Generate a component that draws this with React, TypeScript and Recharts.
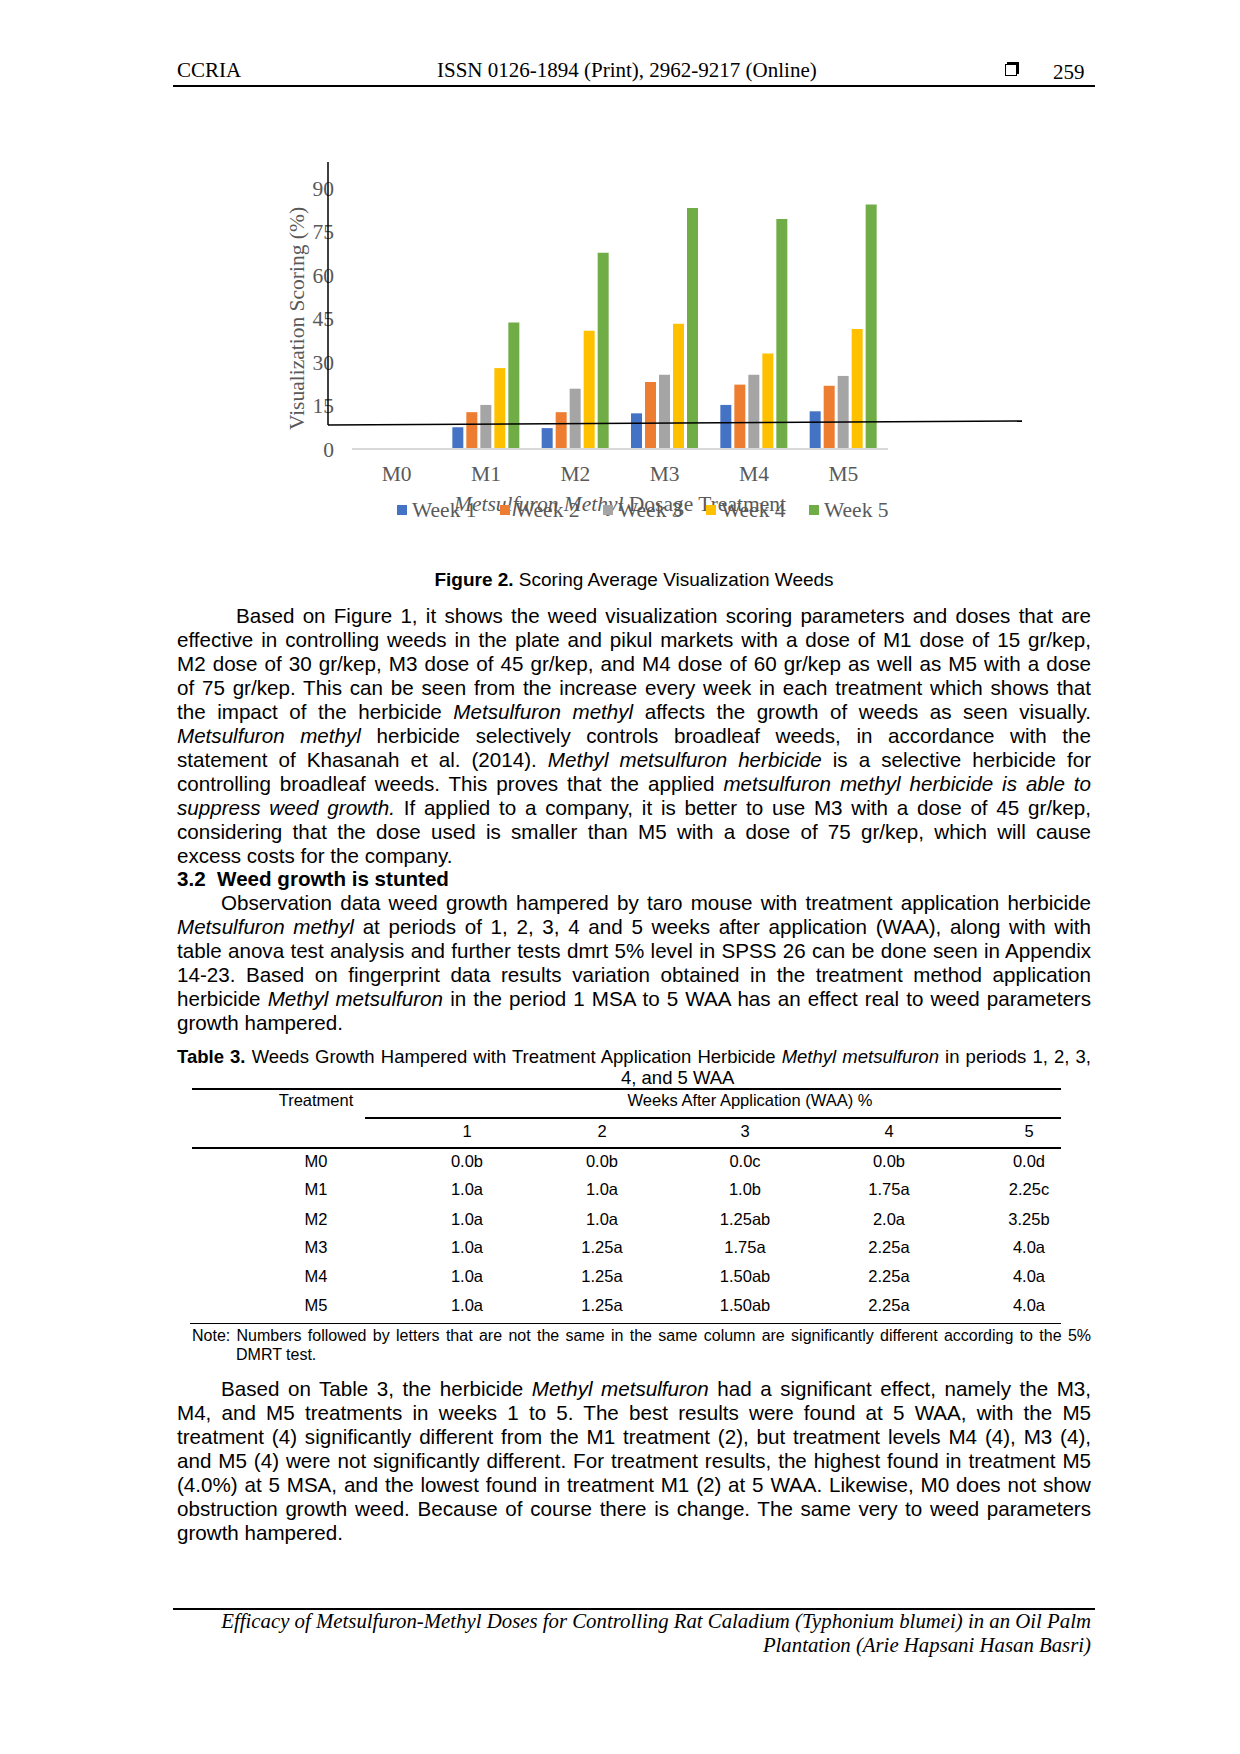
import React from 'react';
import { BarChart, Bar, XAxis, YAxis, Legend } from 'recharts';

// chart values
const categories = ['M0', 'M1', 'M2', 'M3', 'M4', 'M5'];
const week1 = [0, 7.5, 7.2, 12.3, 15.2, 13.0];
const week2 = [0, 12.7, 12.7, 23.1, 22.2, 21.8];
const week3 = [0, 15.2, 20.8, 25.6, 25.6, 25.2];
const week4 = [0, 27.9, 40.8, 43.2, 32.9, 41.4];
const week5 = [0, 43.6, 67.7, 83.1, 79.3, 84.3];
const seriesKeys = ['w1', 'w2', 'w3', 'w4', 'w5'];
const seriesNames = ['Week 1', 'Week 2', 'Week 3', 'Week 4', 'Week 5'];
const seriesColors = ['#4472C4', '#ED7D31', '#A5A5A5', '#FFC000', '#70AD47'];
const yTicks = [0, 15, 30, 45, 60, 75, 90];

// table 3
const tableCols = ['1', '2', '3', '4', '5'];
const tableRows = ['M0', 'M1', 'M2', 'M3', 'M4', 'M5'];
const tableValues = [
  ['0.0b', '0.0b', '0.0c', '0.0b', '0.0d'],
  ['1.0a', '1.0a', '1.0b', '1.75a', '2.25c'],
  ['1.0a', '1.0a', '1.25ab', '2.0a', '3.25b'],
  ['1.0a', '1.25a', '1.75a', '2.25a', '4.0a'],
  ['1.0a', '1.25a', '1.50ab', '2.25a', '4.0a'],
  ['1.0a', '1.25a', '1.50ab', '2.25a', '4.0a'],
];

const data = categories.map((name, i) => ({
  name,
  w1: week1[i],
  w2: week2[i],
  w3: week3[i],
  w4: week4[i],
  w5: week5[i],
}));

const serif = '"Liberation Serif", "Times New Roman", serif';
const sans = '"Liberation Sans", Arial, sans-serif';
const axisGrey = '#595959';
const chartFont = 21.5;

const TextLine = ({ y, left = 177, right = 1091, last = false, size = 20.6, children }: any) => (
  <div
    style={{
      position: 'absolute',
      top: y - 12,
      left,
      width: right - left,
      height: 24,
      lineHeight: '24px',
      fontSize: size,
      whiteSpace: 'nowrap',
      textAlign: last ? 'left' : 'justify',
      textAlignLast: last ? 'left' : 'justify',
    }}
  >
    {children}
  </div>
);

const HRule = ({ y, x1, x2, w = 1.5 }: any) => (
  <div style={{ position: 'absolute', top: y - w / 2, left: x1, width: x2 - x1, height: w, background: '#000' }} />
);

const Centered = ({ x, y, size = 16.5, children }: any) => (
  <div
    style={{
      position: 'absolute',
      top: y - 11,
      left: x - 100,
      width: 200,
      height: 22,
      lineHeight: '22px',
      fontSize: size,
      textAlign: 'center',
    }}
  >
    {children}
  </div>
);

const XTitle = (props: any) => {
  const vb = props.viewBox || { x: 352, y: 449, width: 536, height: 30 };
  return (
    <text
      x={vb.x + vb.width / 2}
      y={vb.y + vb.height + 32}
      textAnchor="middle"
      fill={axisGrey}
      fontSize={chartFont}
      fontFamily={serif}
    >
      <tspan fontStyle="italic">Metsulfuron Methyl</tspan>
      <tspan> Dosage Treatment</tspan>
    </text>
  );
};

const renderLegend = (props: any) => {
  const { payload = [] } = props;
  return (
    <div style={{ display: 'flex', fontFamily: serif, fontSize: chartFont, color: axisGrey, lineHeight: '24px' }}>
      {payload.map((p: any) => (
        <div key={p.value} style={{ width: 103, display: 'flex', alignItems: 'center' }}>
          <span style={{ width: 10, height: 10, background: p.color, marginRight: 5, display: 'inline-block' }} />
          <span>{p.value}</span>
        </div>
      ))}
    </div>
  );
};

const colX = [467, 602, 745, 889, 1029];
const rowY = [1160.5, 1188.5, 1218.6, 1246.6, 1275.6, 1304.7];

export default function App() {
  return (
    <div style={{ position: 'relative', width: 1240, height: 1754, background: '#fff', fontFamily: sans, color: '#000' }}>
      <style>{'body{margin:0}'}</style>

      {/* running header */}
      <div style={{ position: 'absolute', top: 58, left: 177, fontFamily: serif, fontSize: 21, lineHeight: '24px' }}>CCRIA</div>
      <div style={{ position: 'absolute', top: 58, left: 437, fontFamily: serif, fontSize: 21, lineHeight: '24px' }}>
        ISSN 0126-1894 (Print), 2962-9217 (Online)
      </div>
      <div
        style={{
          position: 'absolute',
          top: 64,
          left: 1005,
          width: 10,
          height: 10,
          border: '1.5px solid #000',
          boxShadow: '2px -2px 0 #000',
        }}
      />
      <div style={{ position: 'absolute', top: 60, left: 1053, fontFamily: serif, fontSize: 21, lineHeight: '24px' }}>259</div>
      <HRule y={85.5} x1={173} x2={1095} w={2} />

      {/* figure */}
      <div style={{ position: 'absolute', top: 0, left: 0 }}>
        <BarChart
          width={1240}
          height={560}
          data={data}
          margin={{ top: 188, right: 352, bottom: 81, left: 240 }}
          barSize={11}
          barGap={3}
        >
          <XAxis
            dataKey="name"
            height={30}
            tickLine={false}
            tickSize={0}
            tickMargin={17}
            axisLine={{ stroke: '#D9D9D9', strokeWidth: 2 }}
            tick={{ fill: axisGrey, fontSize: chartFont, fontFamily: serif }}
            label={{ content: (p: any) => <XTitle {...p} /> }}
          />
          <YAxis
            width={112}
            domain={[0, 90]}
            ticks={yTicks}
            interval={0}
            axisLine={false}
            tickLine={false}
            tickSize={0}
            tickMargin={18}
            tick={{ fill: axisGrey, fontSize: chartFont, fontFamily: serif }}
            label={{
              value: 'Visualization Scoring (%)',
              angle: -90,
              position: 'center',
              fill: axisGrey,
              fontSize: chartFont,
              fontFamily: serif,
            }}
          />
          <Legend
            layout="horizontal"
            verticalAlign="middle"
            align="center"
            content={renderLegend}
            wrapperStyle={{ top: 498, left: 397, width: 540, height: 24 }}
          />
          {seriesKeys.map((k, i) => (
            <Bar key={k} dataKey={k} name={seriesNames[i]} fill={seriesColors[i]} isAnimationActive={false} />
          ))}
        </BarChart>
        {/* stray axis strokes sitting over the figure */}
        <svg width={1240} height={560} style={{ position: 'absolute', top: 0, left: 0, pointerEvents: 'none' }}>
          <line x1={328} y1={162} x2={328} y2={425} stroke="#000" strokeWidth={1.5} />
          <line x1={328} y1={425} x2={1022} y2={421} stroke="#000" strokeWidth={1.5} />
        </svg>
      </div>

      {/* caption */}
      <div style={{ position: 'absolute', top: 569, left: 177, width: 914, textAlign: 'center', fontSize: 19, lineHeight: '22px' }}>
        <b>Figure 2.</b> Scoring Average Visualization Weeds
      </div>

      {/* paragraph 1 */}
      <TextLine y={615.5} left={236}>Based on Figure 1, it shows the weed visualization scoring parameters and doses that are</TextLine>
      <TextLine y={639.5}>effective in controlling weeds in the plate and pikul markets with a dose of M1 dose of 15 gr/kep,</TextLine>
      <TextLine y={663.5}>M2 dose of 30 gr/kep, M3 dose of 45 gr/kep, and M4 dose of 60 gr/kep as well as M5 with a dose</TextLine>
      <TextLine y={687.5}>of 75 gr/kep. This can be seen from the increase every week in each treatment which shows that</TextLine>
      <TextLine y={711.5}>
        the impact of the herbicide <i>Metsulfuron methyl</i> affects the growth of weeds as seen visually.
      </TextLine>
      <TextLine y={735.5}>
        <i>Metsulfuron methyl</i> herbicide selectively controls broadleaf weeds, in accordance with the
      </TextLine>
      <TextLine y={759.5}>
        statement of Khasanah et al. (2014). <i>Methyl metsulfuron herbicide</i> is a selective herbicide for
      </TextLine>
      <TextLine y={783.5}>
        controlling broadleaf weeds. This proves that the applied <i>metsulfuron methyl herbicide is able to</i>
      </TextLine>
      <TextLine y={807.5}>
        <i>suppress weed growth.</i> If applied to a company, it is better to use M3 with a dose of 45 gr/kep,
      </TextLine>
      <TextLine y={831.5}>considering that the dose used is smaller than M5 with a dose of 75 gr/kep, which will cause</TextLine>
      <TextLine y={855.5} last>excess costs for the company.</TextLine>

      <TextLine y={879} last>
        <b>3.2&nbsp;&nbsp;Weed growth is stunted</b>
      </TextLine>

      {/* paragraph 2 */}
      <TextLine y={902.5} left={221}>Observation data weed growth hampered by taro mouse with treatment application herbicide</TextLine>
      <TextLine y={926.5}>
        <i>Metsulfuron methyl</i> at periods of 1, 2, 3, 4 and 5 weeks after application (WAA), along with with
      </TextLine>
      <TextLine y={950.5}>table anova test analysis and further tests dmrt 5% level in SPSS 26 can be done seen in Appendix</TextLine>
      <TextLine y={974.5}>14-23. Based on fingerprint data results variation obtained in the treatment method application</TextLine>
      <TextLine y={998.5}>
        herbicide <i>Methyl metsulfuron</i> in the period 1 MSA to 5 WAA has an effect real to weed parameters
      </TextLine>
      <TextLine y={1022.5} last>growth hampered.</TextLine>

      {/* table caption */}
      <TextLine y={1057} size={18.5}>
        <b>Table 3.</b> Weeds Growth Hampered with Treatment Application Herbicide <i>Methyl metsulfuron</i> in periods 1, 2, 3,
      </TextLine>
      <TextLine y={1078} left={621} size={18.5} last>4, and 5 WAA</TextLine>

      {/* table */}
      <HRule y={1089} x1={192} x2={1061} />
      <Centered x={316} y={1100}>Treatment</Centered>
      <div style={{ position: 'absolute', top: 1089, left: 550, width: 400, textAlign: 'center', fontSize: 16.5, lineHeight: '22px' }}>
        Weeks After Application (WAA) %
      </div>
      <HRule y={1118} x1={365} x2={1061} />
      {tableCols.map((c, j) => (
        <Centered key={c} x={colX[j]} y={1130.5}>{c}</Centered>
      ))}
      <HRule y={1148} x1={192} x2={1061} />
      {tableRows.map((r, i) => (
        <React.Fragment key={r}>
          <Centered x={316} y={rowY[i]}>{r}</Centered>
          {tableValues[i].map((v, j) => (
            <Centered key={j} x={colX[j]} y={rowY[i]}>{v}</Centered>
          ))}
        </React.Fragment>
      ))}
      <HRule y={1323.6} x1={190} x2={1061} />
      <div style={{ position: 'absolute', top: 1326, left: 192, width: 899, fontSize: 16, lineHeight: '19px', whiteSpace: 'nowrap', textAlign: 'justify', textAlignLast: 'justify' }}>
        Note: Numbers followed by letters that are not the same in the same column are significantly different according to the 5%
      </div>
      <div style={{ position: 'absolute', top: 1345, left: 236, fontSize: 16, lineHeight: '19px' }}>DMRT test.</div>

      {/* paragraph 3 */}
      <TextLine y={1388.5} left={221}>
        Based on Table 3, the herbicide <i>Methyl metsulfuron</i> had a significant effect, namely the M3,
      </TextLine>
      <TextLine y={1412.5}>M4, and M5 treatments in weeks 1 to 5. The best results were found at 5 WAA, with the M5</TextLine>
      <TextLine y={1436.5}>treatment (4) significantly different from the M1 treatment (2), but treatment levels M4 (4), M3 (4),</TextLine>
      <TextLine y={1460.5}>and M5 (4) were not significantly different. For treatment results, the highest found in treatment M5</TextLine>
      <TextLine y={1484.5}>(4.0%) at 5 MSA, and the lowest found in treatment M1 (2) at 5 WAA. Likewise, M0 does not show</TextLine>
      <TextLine y={1508.5}>obstruction growth weed. Because of course there is change. The same very to weed parameters</TextLine>
      <TextLine y={1532.5} last>growth hampered.</TextLine>

      {/* footer */}
      <HRule y={1608.5} x1={173} x2={1095} w={2} />
      <div style={{ position: 'absolute', top: 1609, left: 177, width: 914, textAlign: 'right', fontFamily: serif, fontStyle: 'italic', fontSize: 20.8, lineHeight: '24px' }}>
        Efficacy of Metsulfuron-Methyl Doses for Controlling Rat Caladium (Typhonium blumei) in an Oil Palm
        <br />
        Plantation (Arie Hapsani Hasan Basri)
      </div>
    </div>
  );
}
